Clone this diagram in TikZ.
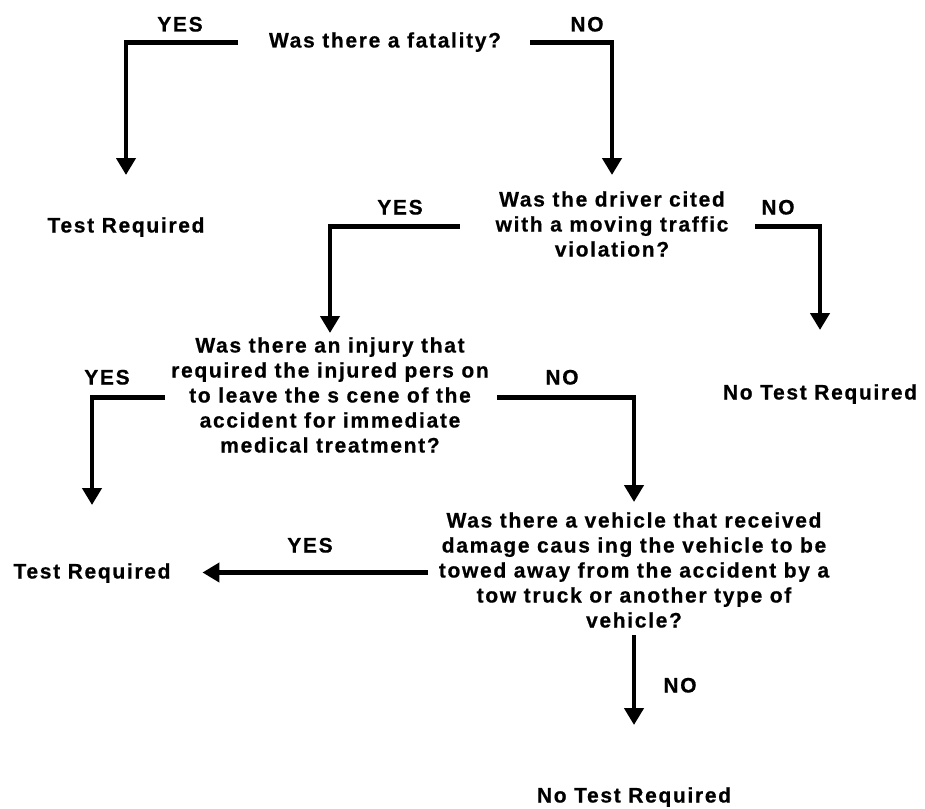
\documentclass[tikz,border=0pt]{standalone}
\usepackage{fontspec}
\setmainfont{Liberation Sans}[LetterSpace=8, BoldFeatures={FakeBold=0.6}]
\usetikzlibrary{arrows.meta}
\tikzset{
  txt/.style={font=\bfseries\fontsize{21}{25}\selectfont, align=center, inner sep=0pt, outer sep=0pt},
  conn/.style={line width=4.5pt, line join=miter, -{Triangle[width=19pt,length=17pt]}}
}
\begin{document}
\begin{tikzpicture}[x=1pt,y=-1pt]
\fill[white] (0,0) rectangle (925,808);
\useasboundingbox (0,0) rectangle (925,808);

% questions
\node[txt] (q1) at (385,42.5) {\strut Was there a fatality?};
\node[txt] (q2) at (612,226.5) {\strut Was the driver cited\\\strut with a moving traffic\\\strut violation?};
\node[txt] (q3) at (330,397.5) {\strut Was there an injury that\\\strut required the injured pers on\\\strut to leave the s cene of the\\\strut accident for immediate\\\strut medical treatment?};
\node[txt] (q4) at (634,572.5) {\strut Was there a vehicle that received\\\strut damage caus ing the vehicle to be\\\strut towed away from the accident by a\\\strut tow truck or another type of\\\strut vehicle?};

% outcomes
\node[txt] (tr1) at (126,227.5) {\strut Test Required};
\node[txt] (ntr1) at (820,394.5) {\strut No Test Required};
\node[txt] (tr2) at (92,573.5) {\strut Test Required};
\node[txt] (ntr2) at (634,797.5) {\strut No Test Required};

% labels
\node[txt] (y1) at (180,26.5) {\strut YES};
\node[txt] (n1) at (587,26.5) {\strut NO};
\node[txt] (y2) at (400,209.5) {\strut YES};
\node[txt] (n2) at (778,209.5) {\strut NO};
\node[txt] (y3) at (107,379.5) {\strut YES};
\node[txt] (n3) at (562,379.5) {\strut NO};
\node[txt] (y4) at (310,547.5) {\strut YES};
\node[txt] (n4) at (680,687.5) {\strut NO};

% connectors
\draw[conn, shorten >=40pt] ([xshift=-147pt]q1.center) -| (tr1.north);
\draw[conn, shorten >=14pt] ([xshift=145pt]q1.center) -| (q2.north);
\draw[conn, shorten >=2pt] ([xshift=-152pt]q2.center) -| (q3.north);
\draw[conn, shorten >=52pt] ([xshift=143pt]q2.center) -| (ntr1.north);
\draw[conn, shorten >=56pt] ([xshift=-165pt]q3.center) -| (tr2.north);
\draw[conn, shorten >=8pt] ([xshift=167pt]q3.center) -| (q4.north);
\draw[conn, shorten >=32pt] ([xshift=-206pt]q4.center) -- (tr2.east |- q4.center);
\draw[conn, shorten >=60pt] ([yshift=-62.5pt]q4.center) -- (ntr2.north);
\end{tikzpicture}
\end{document}
